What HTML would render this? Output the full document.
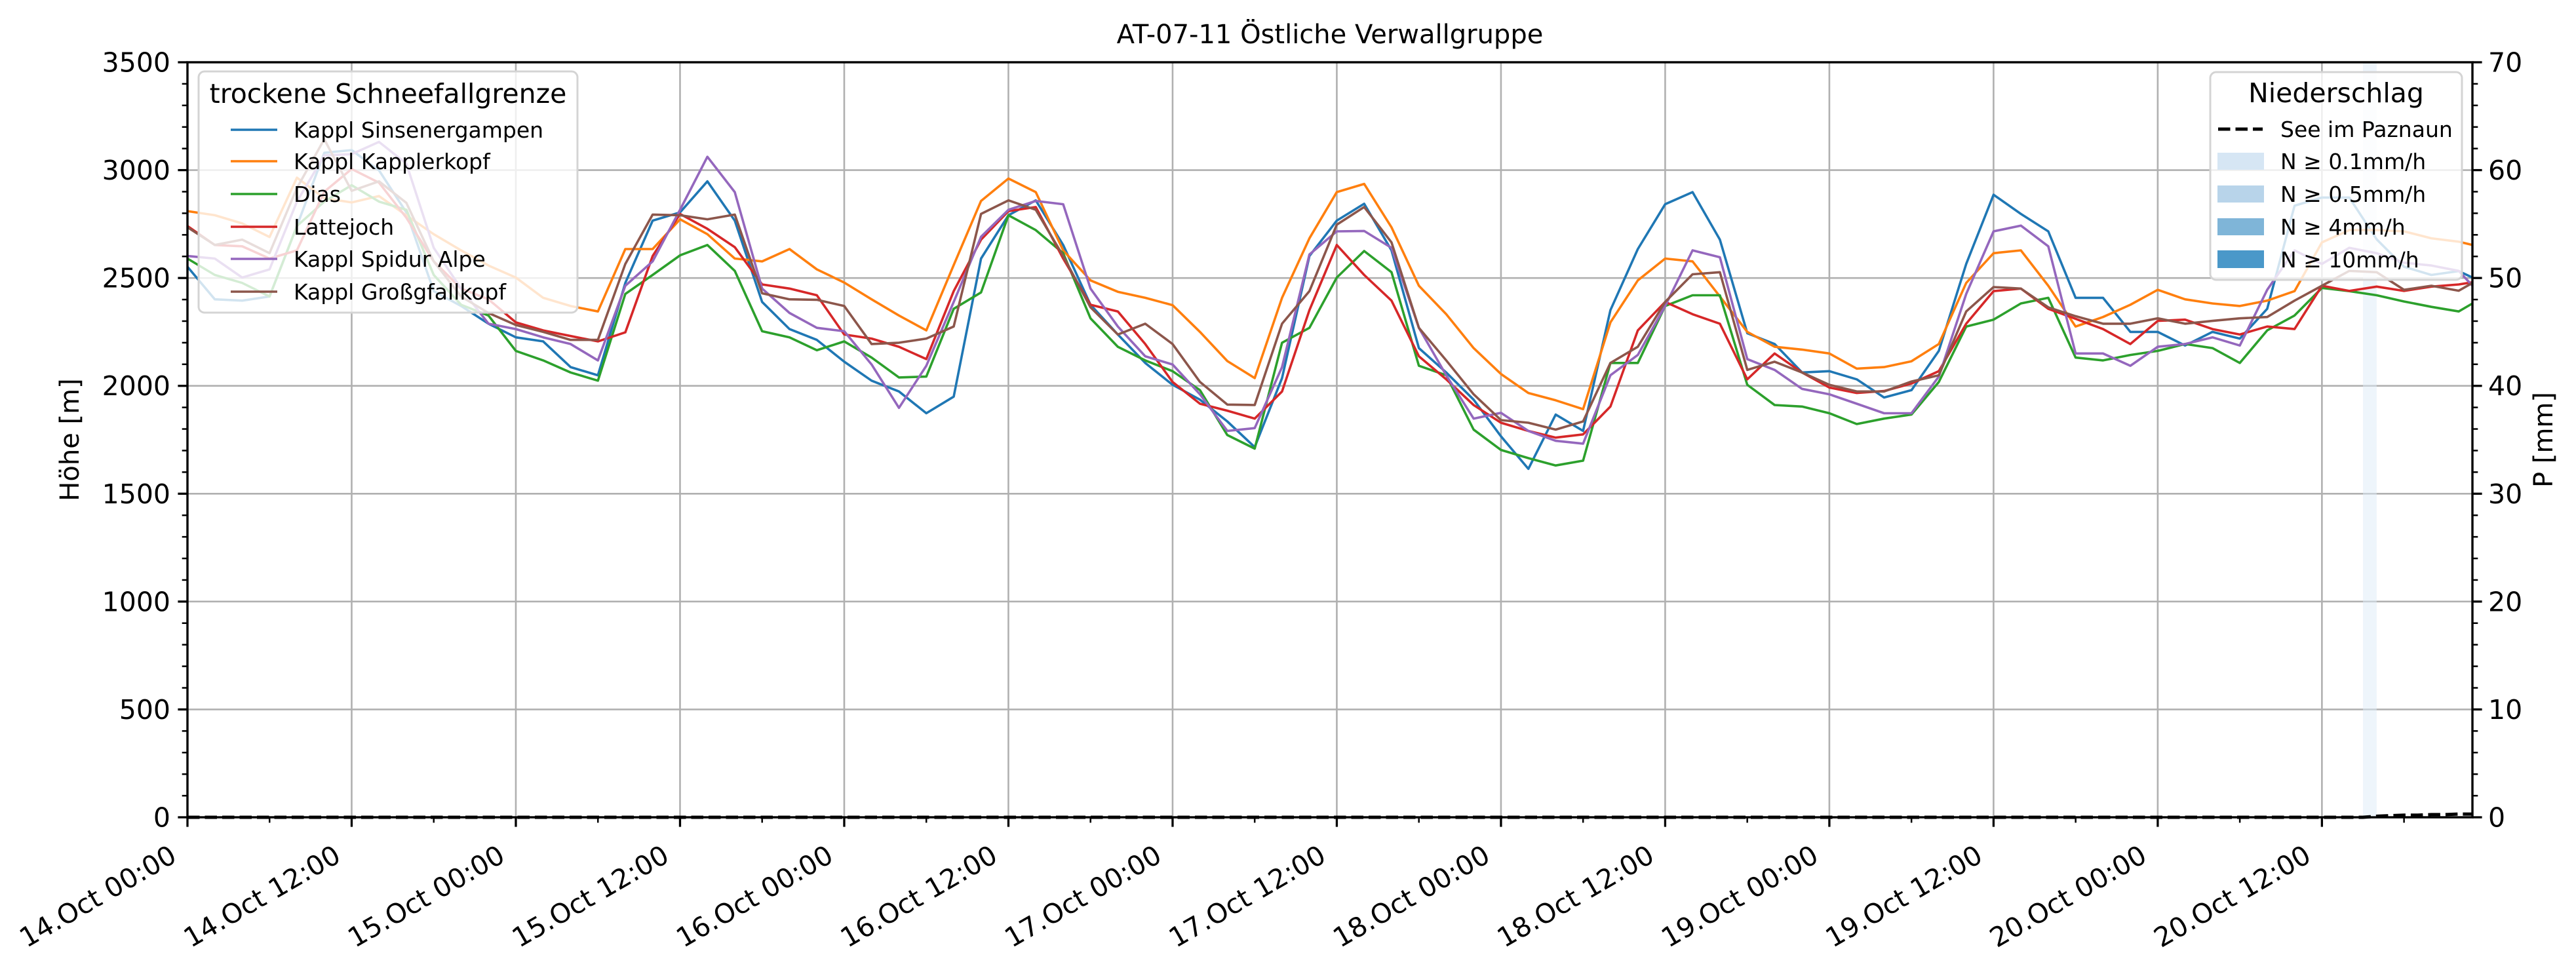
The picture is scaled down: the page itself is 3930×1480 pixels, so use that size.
<!DOCTYPE html>
<html><head><meta charset="utf-8"><title>AT-07-11 Östliche Verwallgruppe</title>
<style>
html,body{margin:0;padding:0;background:#fff;}
svg{display:block;font-family:"DejaVu Sans","Liberation Sans",sans-serif;}
</style></head>
<body>
<svg id="chart" width="3930" height="1480" viewBox="0 0 3930 1480" xmlns="http://www.w3.org/2000/svg">
<rect width="3930" height="1480" fill="#fff"/>
<g id="grid"></g>
<g id="precip"></g>
<g id="series"></g>
<g id="axes"></g>
<text x="2029" y="66" font-size="40" text-anchor="middle">AT-07-11 Östliche Verwallgruppe</text>
<text transform="translate(120,671) rotate(-90)" font-size="40" text-anchor="middle">Höhe [m]</text>
<text transform="translate(3894,671) rotate(-90)" font-size="40" text-anchor="middle">P [mm]</text>
<g id="legend1">
<rect x="303" y="109" width="578" height="368" rx="9" fill="rgba(255,255,255,0.8)" stroke="#d4d4d4" stroke-width="3"/>
<text x="592" y="157" font-size="41" text-anchor="middle">trockene Schneefallgrenze</text>
</g>
<g id="legend2">
<rect x="3372" y="110" width="384" height="317" rx="9" fill="rgba(255,255,255,0.8)" stroke="#d4d4d4" stroke-width="3"/>
<text x="3564" y="156" font-size="41" text-anchor="middle">Niederschlag</text>
<line x1="3384" y1="197" x2="3452" y2="197" stroke="#000" stroke-width="5" stroke-dasharray="18.5,8"/>
<text x="3479" y="209" font-size="33">See im Paznaun</text>
<rect x="3383" y="233" width="71" height="26" fill="#d6e6f4"/>
<text x="3479" y="258" font-size="33">N ≥ 0.1mm/h</text>
<rect x="3383" y="283" width="71" height="26" fill="#b8d4ea"/>
<text x="3479" y="308" font-size="33">N ≥ 0.5mm/h</text>
<rect x="3383" y="333" width="71" height="26" fill="#7fb5d8"/>
<text x="3479" y="358" font-size="33">N ≥ 4mm/h</text>
<rect x="3383" y="382" width="71" height="27" fill="#4a98c9"/>
<text x="3479" y="408" font-size="33">N ≥ 10mm/h</text>
</g>
</svg>
<script>
const hours = [0,2,4,6,8,10,12,14,16,18,20,22,24,26,28,30,32,34,36,38,40,42,44,46,48,50,52,54,56,58,60,62,64,66,68,70,72,74,76,78,80,82,84,86,88,90,92,94,96,98,100,102,104,106,108,110,112,114,116,118,120,122,124,126,128,130,132,134,136,138,140,142,144,146,148,150,152,154,156,158,160,162,164,166,167];
const seriesNames = ["Kappl Sinsenergampen","Kappl Kapplerkopf","Dias","Lattejoch","Kappl Spidur Alpe","Kappl Großgfallkopf"];
const sinsenergampen = [2552,2401,2395,2414,2741,3080,3093,2999,2804,2439,2370,2288,2225,2206,2087,2049,2477,2766,2804,2948,2766,2389,2263,2213,2112,2024,1974,1873,1950,2590,2791,2860,2653,2376,2238,2106,2005,1936,1835,1716,2036,2602,2766,2844,2628,2175,2062,1936,1766,1615,1867,1791,2351,2634,2842,2898,2678,2244,2194,2062,2068,2030,1946,1980,2162,2565,2886,2797,2716,2408,2408,2250,2250,2187,2250,2219,2357,2835,2873,2873,2679,2552,2514,2532,2502];
const kapplerkopf = [2810,2791,2753,2690,2965,2870,2850,2880,2790,2703,2628,2558,2502,2408,2370,2345,2634,2634,2772,2703,2590,2577,2634,2540,2479,2401,2326,2257,2560,2857,2961,2898,2628,2489,2436,2408,2374,2250,2115,2036,2408,2684,2898,2936,2735,2464,2332,2175,2055,1967,1933,1892,2294,2489,2590,2577,2414,2250,2181,2168,2150,2080,2087,2114,2194,2477,2615,2628,2464,2275,2319,2376,2445,2401,2382,2370,2395,2439,2665,2722,2722,2716,2684,2668,2653];
const dias = [2590,2514,2477,2414,2741,2854,2930,2854,2816,2514,2376,2326,2162,2118,2062,2024,2426,2514,2605,2653,2533,2253,2225,2165,2206,2131,2039,2043,2357,2433,2791,2722,2615,2313,2181,2118,2068,1980,1772,1709,2200,2269,2502,2625,2527,2093,2049,1797,1703,1665,1631,1653,2106,2106,2370,2420,2420,2005,1911,1904,1873,1823,1848,1867,2018,2275,2307,2382,2408,2131,2118,2143,2162,2194,2175,2106,2257,2326,2454,2439,2420,2391,2366,2345,2382];
const lattejoch = [2741,2653,2647,2590,2628,2900,3005,2942,2779,2577,2451,2401,2294,2257,2231,2206,2248,2602,2797,2728,2643,2470,2451,2420,2238,2219,2181,2124,2439,2678,2810,2829,2590,2376,2345,2194,2018,1917,1885,1848,1974,2351,2653,2514,2395,2137,2030,1911,1829,1791,1760,1775,1904,2257,2389,2332,2288,2030,2150,2062,1992,1967,1976,2011,2068,2288,2439,2451,2357,2311,2263,2194,2301,2307,2263,2238,2275,2263,2464,2440,2460,2440,2460,2470,2480];
const spidurAlpe = [2602,2590,2502,2540,2854,3068,3074,3131,3030,2640,2451,2288,2263,2225,2194,2118,2464,2577,2816,3062,2898,2451,2338,2269,2253,2099,1898,2093,2389,2691,2816,2857,2842,2451,2275,2137,2099,1961,1791,1804,2087,2609,2716,2718,2640,2269,2049,1848,1875,1791,1745,1732,2049,2143,2370,2628,2596,2124,2074,1986,1961,1917,1873,1873,2043,2426,2716,2743,2647,2150,2150,2093,2181,2194,2225,2187,2445,2628,2565,2640,2615,2571,2558,2533,2464];
const grossgfallkopf = [2735,2653,2678,2615,2917,3143,2904,2948,2848,2577,2414,2338,2282,2250,2213,2213,2565,2794,2791,2772,2794,2429,2401,2399,2370,2194,2200,2219,2275,2797,2860,2816,2602,2364,2238,2288,2194,2018,1913,1911,2288,2439,2747,2829,2665,2269,2118,1961,1841,1829,1797,1835,2106,2181,2389,2517,2527,2074,2112,2062,2005,1974,1974,2020,2049,2345,2458,2451,2364,2323,2288,2288,2313,2288,2301,2313,2319,2395,2464,2533,2527,2445,2464,2441,2477];
const precipHours = [0,24,48,72,96,120,144,159,160,161,162,163,164,165,166,167];
const precipValues = [0,0,0,0,0,0,0,0,0.1,0.15,0.2,0.2,0.25,0.25,0.3,0.3];
const rainBandStart = [159];
const rainBandEnd = [160];
const xTickHours = [0,12,24,36,48,60,72,84,96,108,120,132,144,156];
const xTickLabels = ["14.Oct 00:00","14.Oct 12:00","15.Oct 00:00","15.Oct 12:00","16.Oct 00:00","16.Oct 12:00","17.Oct 00:00","17.Oct 12:00","18.Oct 00:00","18.Oct 12:00","19.Oct 00:00","19.Oct 12:00","20.Oct 00:00","20.Oct 12:00"];
const yTicks = [0,500,1000,1500,2000,2500,3000,3500];
const y2Ticks = [0,10,20,30,40,50,60,70];

const NS = "http://www.w3.org/2000/svg";
const X0 = 286, X1 = 3772, YB = 1247, YT = 95, HMAX = 167, YMAX = 3500, PMAX = 70;
function xs(h){ return X0 + (X1 - X0) * h / HMAX; }
function ys(v){ return YB - (YB - YT) * v / YMAX; }
function yp(p){ return YB - (YB - YT) * p / PMAX; }
function mk(tag, attrs, parent){
  const e = document.createElementNS(NS, tag);
  for (const k in attrs) e.setAttribute(k, attrs[k]);
  parent.appendChild(e);
  return e;
}
const grid = document.getElementById('grid');
const axes = document.getElementById('axes');
const precip = document.getElementById('precip');
const seriesG = document.getElementById('series');

xTickHours.forEach(h => {
  const l = mk('line', {x1: xs(h), y1: YT, x2: xs(h), y2: YB, stroke: '#b0b0b0', 'stroke-width': 2.6}, grid);
  
  
});
yTicks.forEach(v => {
  const l = mk('line', {x1: X0, y1: ys(v), x2: X1, y2: ys(v), stroke: '#b0b0b0', 'stroke-width': 2.6}, grid);
  
  
});

rainBandStart.forEach((s, i) => {
  const r = mk('rect', {x: xs(s), y: YT, width: xs(rainBandEnd[i]) - xs(s), height: YB - YT, fill: 'rgba(222,235,247,0.5)'}, precip);
  
  
});

const colors = ['#1f77b4','#ff7f0e','#2ca02c','#d62728','#9467bd','#8c564b'];
const allSeries = [sinsenergampen, kapplerkopf, dias, lattejoch, spidurAlpe, grossgfallkopf];
const seriesIds = ['series-sinsenergampen','series-kapplerkopf','series-dias','series-lattejoch','series-spidur-alpe','series-grossgfallkopf'];
allSeries.forEach((vals, i) => {
  const pts = vals.map((v, j) => xs(hours[j]).toFixed(1) + ',' + ys(v).toFixed(1)).join(' ');
  const pl = mk('polyline', {points: pts, fill: 'none', stroke: colors[i], 'stroke-width': 3.6, 'stroke-linejoin': 'round'}, seriesG);
  
  
});

const ppts = precipValues.map((p, j) => xs(precipHours[j]).toFixed(1) + ',' + yp(p).toFixed(1)).join(' ');
const pline = mk('polyline', {points: ppts, fill: 'none', stroke: '#000', 'stroke-width': 5, 'stroke-dasharray': '18.5,8'}, seriesG);



const frame = mk('rect', {x: X0, y: YT, width: X1 - X0, height: YB - YT, fill: 'none', stroke: '#000', 'stroke-width': 3.4}, axes);



yTicks.forEach(v => {
  const t = mk('line', {x1: X0 - 14.6, y1: ys(v), x2: X0, y2: ys(v), stroke: '#000', 'stroke-width': 3.3}, axes);
  
  
  const tx = mk('text', {x: X0 - 26, y: ys(v) + 14.5, 'font-size': 41, 'text-anchor': 'end'}, axes);
  tx.textContent = String(v);
  
  
});
for (let v = 100; v < YMAX; v += 100) {
  if (v % 500 === 0) continue;
  const t = mk('line', {x1: X0 - 8.3, y1: ys(v), x2: X0, y2: ys(v), stroke: '#000', 'stroke-width': 2.5}, axes);
  
  
}
y2Ticks.forEach(p => {
  const t = mk('line', {x1: X1, y1: yp(p), x2: X1 + 14.6, y2: yp(p), stroke: '#000', 'stroke-width': 3.3}, axes);
  
  
  const tx = mk('text', {x: X1 + 24, y: yp(p) + 14.5, 'font-size': 41, 'text-anchor': 'start'}, axes);
  tx.textContent = String(p);
  
  
});
for (let p = 2; p < PMAX; p += 2) {
  if (p % 10 === 0) continue;
  const t = mk('line', {x1: X1, y1: yp(p), x2: X1 + 8.3, y2: yp(p), stroke: '#000', 'stroke-width': 2.5}, axes);
  
  
}
xTickHours.forEach((h, i) => {
  const t = mk('line', {x1: xs(h), y1: YB, x2: xs(h), y2: YB + 14.6, stroke: '#000', 'stroke-width': 3.3}, axes);
  
  
  const px = xs(h) - 14, py = 1313;
  const tx = mk('text', {x: px, y: py, 'font-size': 41, 'text-anchor': 'end', transform: 'rotate(-30 ' + px + ' ' + py + ')'}, axes);
  tx.textContent = xTickLabels[i];
  
  
});
for (let h = 6; h < HMAX; h += 12) {
  const t = mk('line', {x1: xs(h), y1: YB, x2: xs(h), y2: YB + 8.3, stroke: '#000', 'stroke-width': 2.5}, axes);
  
  
}

const lg1 = document.getElementById('legend1');
const entryY = [198, 246, 296, 346, 395, 445];
seriesNames.forEach((n, i) => {
  const l = mk('line', {x1: 352, y1: entryY[i], x2: 423, y2: entryY[i], stroke: colors[i], 'stroke-width': 3.6}, lg1);
  
  
  const t = mk('text', {x: 448, y: entryY[i] + 12, 'font-size': 33}, lg1);
  t.textContent = n;
  
  
});
</script>
</body></html>
